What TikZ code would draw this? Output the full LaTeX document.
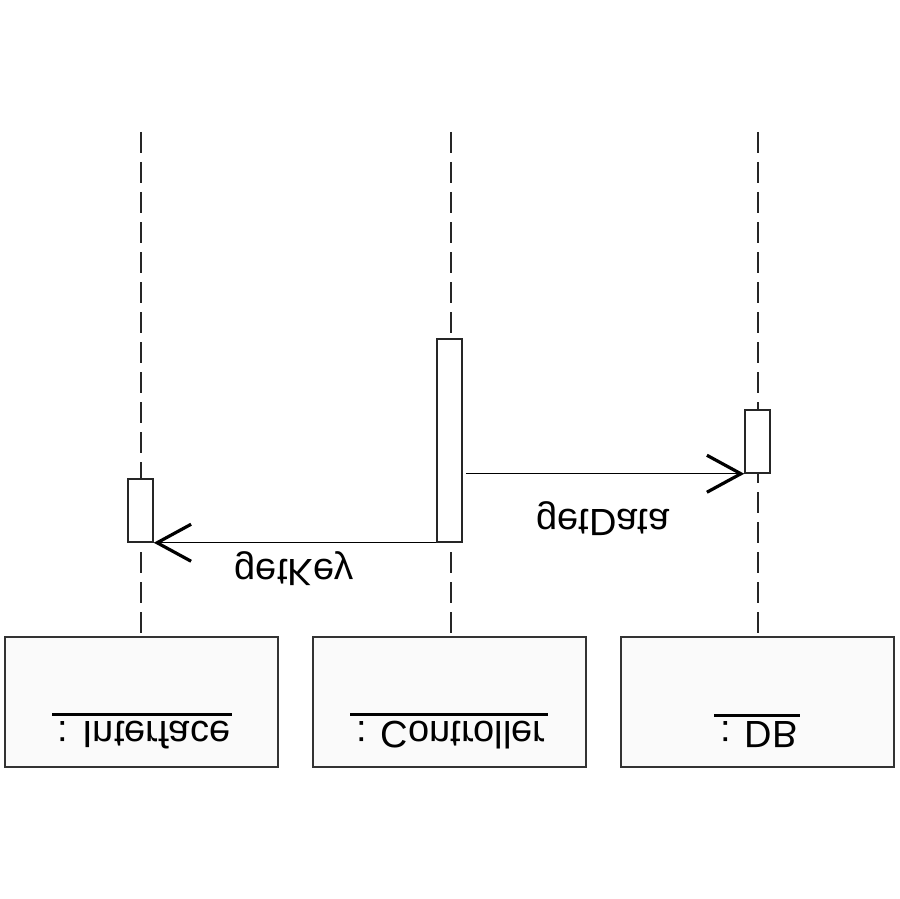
\documentclass[tikz,border=0pt]{standalone}
\usepackage{fontspec}
\setmainfont{Liberation Sans}
\usetikzlibrary{arrows.meta}

\newcommand{\objname}[1]{\vtop{\hbox{\kern3pt#1\kern1pt}\kern2.5pt\hrule height 1.1pt}}

\begin{document}
\begin{tikzpicture}[x=0.5pt, y=-0.5pt,
        objbox/.style={draw=black!80, line width=1pt, fill=black!2, minimum width=136.5pt, minimum height=65pt, inner sep=0pt},
        actbox/.style={draw=black!85, line width=0.75pt, fill=white, minimum width=12.5pt, inner sep=0pt},
        lifeline/.style={draw=black!85, line width=0.8pt, dash pattern=on 10.5pt off 4.5pt},
        msg/.style={line width=0.6pt, -{Straight Barb[length=17pt, width=18.5pt, line width=1.6pt]}},
        flipped/.style={yscale=-1, font=\fontsize{19}{23}\selectfont, inner sep=0pt}]
    \useasboundingbox (0,0) rectangle (900,899);

    % objects
    \node[objbox] (iface) at (141.5, 702) {};
    \node[objbox] (ctrl)  at (449, 702) {};
    \node[objbox] (db)    at (757, 702) {};

    \node[flipped] (ifaceName) at (142, 731) {\objname{: Interface}};
    \node[flipped] (ctrlName)  at (449, 731) {\objname{: Controller}};
    \node[flipped] (dbName)    at (757, 731) {\objname{: DB}};

    % lifelines
    \coordinate (ifaceTop) at (141, 132);
    \coordinate (ctrlTop)  at (451, 132);
    \coordinate (dbTop)    at (758, 132);
    \draw[lifeline] (ifaceTop) -- (ifaceTop |- iface.north);
    \draw[lifeline] (ctrlTop) -- (ctrlTop |- ctrl.north);
    \draw[lifeline] (dbTop) -- (dbTop |- db.north);

    % activations
    \node[actbox, minimum height=31.5pt] (actI) at (140.5, 510.5) {};
    \node[actbox, minimum height=101.5pt] (actC) at (449.5, 440.5) {};
    \node[actbox, minimum height=31.5pt] (actD) at (757.5, 441.5) {};

    % messages
    \draw[msg] (actC.south west) -- (actI.south east);
    \draw[msg] ([xshift=1.5pt]actC.east |- actD.south west) -- (actD.south west);

    \node[flipped] (getKey)  at (294, 569) {getKey};
    \node[flipped] (getData) at (603, 519) {getData};
\end{tikzpicture}
\end{document}
